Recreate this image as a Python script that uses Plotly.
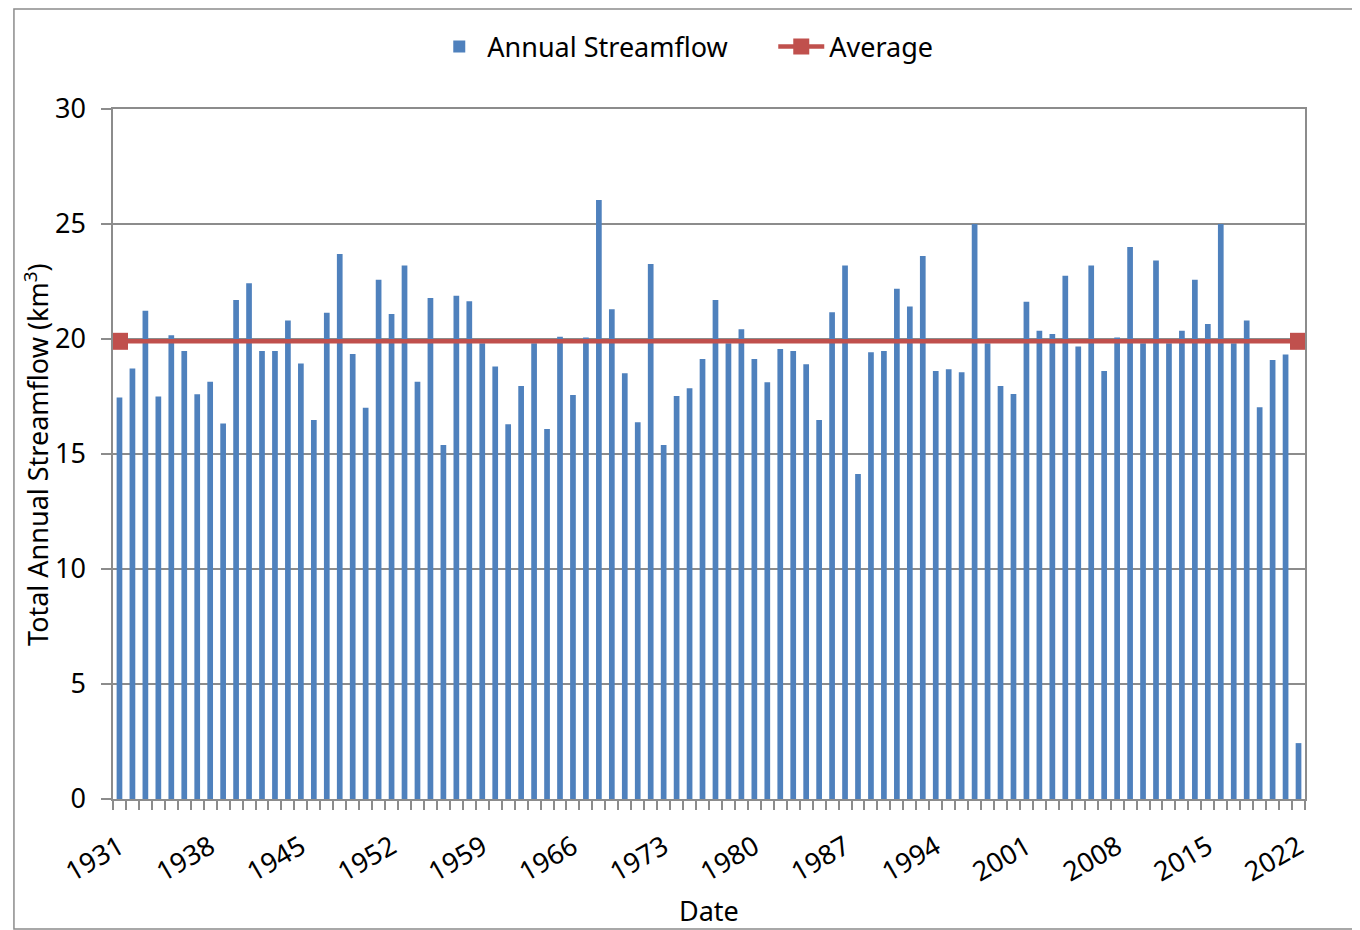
import plotly.graph_objects as go

# annual totals, km3
years = list(range(1931, 2023))
streamflow = [
    17.46, 18.72, 21.23, 17.50, 20.16, 19.48, 17.60, 18.14, 16.33, 21.70,
    22.42, 19.48, 19.48, 20.80, 18.94, 16.48, 21.14, 23.70, 19.35, 17.01,
    22.58, 21.09, 23.20, 18.14, 21.78, 15.39, 21.88, 21.64, 19.81, 18.80,
    16.29, 17.96, 19.81, 16.09, 20.10, 17.57, 20.07, 26.04, 21.29, 18.51,
    16.38, 23.26, 15.39, 17.52, 17.86, 19.13, 21.70, 19.81, 20.42, 19.13,
    18.12, 19.57, 19.48, 18.90, 16.48, 21.16, 23.20, 14.13, 19.42, 19.48,
    22.19, 21.41, 23.61, 18.61, 18.68, 18.55, 25.00, 19.81, 17.96, 17.61,
    21.62, 20.36, 20.22, 22.75, 19.67, 23.20, 18.61, 20.07, 24.00, 19.81,
    23.41, 19.81, 20.36, 22.58, 20.65, 25.00, 19.81, 20.80, 17.03, 19.09,
    19.33, 2.43,
]
avg_years = [1931, 2022]
avg_values = [19.9, 19.9]
label_years = list(range(1931, 2023, 7))

FONT = "Noto Sans"
GRID = "#8c8c8c"
FS = 27

fig = go.Figure()
fig.add_trace(go.Bar(
    x=years, y=streamflow, name="Annual Streamflow",
    marker=dict(color="#4F81BD", line=dict(width=0)),
    width=0.44,
))
fig.add_trace(go.Scatter(
    x=avg_years, y=avg_values, name="Average", mode="lines+markers",
    line=dict(color="#C0504D", width=4.5),
    marker=dict(symbol="square", size=17, color="#C0504D"),
))

# page has an 8px body margin, so the figure is a bit smaller than the window
fig.update_layout(
    width=1352, height=922,
    margin=dict(l=105, r=55, t=101, b=131),
    plot_bgcolor="white", paper_bgcolor="white",
    font=dict(family=FONT, size=FS, color="black"),
    showlegend=True,
    legend=dict(orientation="h", x=0.267, xanchor="left", y=1.09, yanchor="middle",
                font=dict(size=FS), itemwidth=46, entrywidth=281),
    xaxis=dict(
        range=[1930.5, 2022.5], tickmode="array", tickvals=label_years,
        ticktext=[str(y) for y in label_years], tickangle=-30, ticks="",
        ticklabelstandoff=20,
        showgrid=False, showline=True, linecolor=GRID, linewidth=1.5, mirror=True,
        tickfont=dict(size=FS),
        minor=dict(tickmode="linear", tick0=1930.5, dtick=1, ticks="outside",
                   ticklen=9, tickcolor=GRID, tickwidth=1.5, showgrid=False),
        zeroline=False,
    ),
    yaxis=dict(
        range=[0, 30], dtick=5, ticks="outside", ticklen=10, tickcolor=GRID, tickwidth=1.5,
        ticklabelstandoff=10,
        showgrid=True, gridcolor=GRID, gridwidth=1.5,
        showline=True, linecolor=GRID, linewidth=1.5, mirror=True,
        tickfont=dict(size=FS), zeroline=False,
    ),
    bargap=0.6,
)

fig.add_annotation(
    text="Total Annual Streamflow (km<sup>3</sup>)", textangle=-90,
    xref="paper", yref="paper", x=-0.0646, y=0.5, xanchor="center", yanchor="middle",
    showarrow=False, font=dict(size=FS),
)
fig.add_annotation(
    text="Date", xref="paper", yref="paper", x=0.5, y=-0.1623,
    xanchor="center", yanchor="middle", showarrow=False, font=dict(size=FS),
)

# outer chart frame
fig.add_shape(type="rect", xref="paper", yref="paper",
              x0=-0.0831, x1=1.0411, y0=-0.1884, y1=1.1449,
              line=dict(color="#8c8c8c", width=1.5))

fig.write_html("out.html")
